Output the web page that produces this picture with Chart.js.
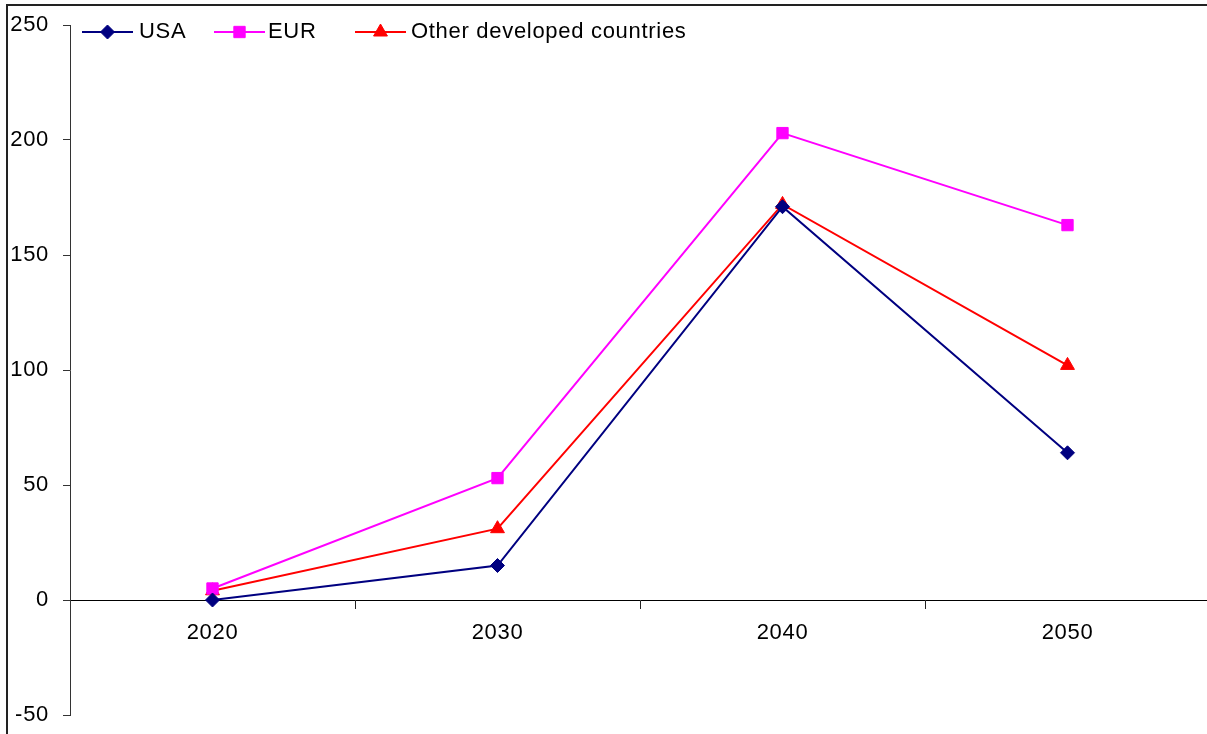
<!DOCTYPE html>
<html>
<head>
<meta charset="utf-8">
<script src="https://cdn.jsdelivr.net/npm/chart.js@4.4.0/dist/chart.umd.min.js"></script>
<style>
    html, body { margin: 0; padding: 0; background: #fff; overflow: hidden; }
    #wrap { position: relative; width: 1219px; height: 734px; }
</style>
</head>
<body>
<div id="wrap"><canvas id="lineChart" width="1219" height="734"></canvas></div>
<script>
(function () {
    'use strict';

    // Series data
    var years = ['2020', '2030', '2040', '2050'];
    var usaValues = [0, 15, 171, 64];
    var eurValues = [5, 53, 203, 163];
    var otherValues = [4, 31, 172, 102];
    var seriesNames = ['USA', 'EUR', 'Other developed countries'];
    var yTicks = [-50, 0, 50, 100, 150, 200, 250];

    var FONT = "'Liberation Sans', Arial, sans-serif";
    Chart.defaults.font.family = FONT;
    Chart.defaults.font.size = 22;
    Chart.defaults.color = '#000';

    function series(label, data, color, style, radius) {
        return {
            label: label,
            data: data,
            borderColor: color,
            backgroundColor: color,
            borderWidth: 2,
            pointStyle: style,
            pointRadius: radius,
            pointHoverRadius: radius,
            pointBorderWidth: 1,
            pointBorderColor: color,
            pointBackgroundColor: color,
            tension: 0
        };
    }

    // outer frame + slightly wider letter spacing for all text
    var framePlugin = {
        id: 'frame',
        beforeDraw: function (chart) {
            var ctx = chart.ctx;
            ctx.save();
            ctx.fillStyle = '#fff';
            ctx.fillRect(0, 0, chart.width, chart.height);
            ctx.strokeStyle = '#222';
            ctx.lineWidth = 2;
            ctx.strokeRect(7, 5, chart.width + 20, chart.height + 20);
            ctx.restore();
            if ('letterSpacing' in ctx) ctx.letterSpacing = '0.7px';
        }
    };

    // line-with-marker legend drawn inside the plot, top left
    var legendPlugin = {
        id: 'inlineLegend',
        afterDraw: function (chart) {
            var ctx = chart.ctx;
            var lineX = [82, 214, 355];
            var textX = [139, 268, 411];
            var lineY = 32;
            ctx.save();
            chart.data.datasets.forEach(function (ds, i) {
                var x0 = lineX[i], x1 = lineX[i] + 51;
                ctx.strokeStyle = ds.borderColor;
                ctx.lineWidth = 2;
                ctx.beginPath();
                ctx.moveTo(x0, lineY);
                ctx.lineTo(x1, lineY);
                ctx.stroke();
                ctx.fillStyle = ds.pointBackgroundColor;
                ctx.strokeStyle = ds.pointBorderColor;
                ctx.lineWidth = 1;
                Chart.helpers.drawPoint(ctx, {
                    pointStyle: ds.pointStyle,
                    radius: ds.pointRadius,
                    rotation: 0,
                    borderWidth: 1
                }, (x0 + x1) / 2, lineY);
                ctx.fillStyle = '#000';
                ctx.font = '22px ' + FONT;
                ctx.textBaseline = 'alphabetic';
                ctx.textAlign = 'left';
                ctx.fillText(ds.label, textX[i], 37.5);
            });
            ctx.restore();
        }
    };

    var ctx = document.getElementById('lineChart');
    new Chart(ctx, {
        type: 'line',
        data: {
            labels: years,
            datasets: [
                series(seriesNames[0], usaValues, '#000080', 'rectRot', 7),
                series(seriesNames[1], eurValues, '#FF00FF', 'rect', 8),
                series(seriesNames[2], otherValues, '#FF0000', 'triangle', 8)
            ]
        },
        options: {
            responsive: false,
            animation: false,
            layout: { padding: { left: 0, right: 2, top: 25, bottom: 19 } },
            plugins: {
                legend: { display: false },
                tooltip: { enabled: false }
            },
            scales: {
                x: {
                    type: 'category',
                    position: { y: 0 },
                    offset: true,
                    afterFit: function (scale) {
                        scale.height = 0;
                        scale.paddingLeft = 0;
                        scale.paddingRight = 0;
                    },
                    grid: {
                        offset: true,
                        drawOnChartArea: false,
                        drawTicks: true,
                        tickLength: 8,
                        color: '#222'
                    },
                    border: { display: true, color: '#000', width: 1 },
                    ticks: { padding: 12, maxRotation: 0, autoSkip: false }
                },
                y: {
                    min: yTicks[0],
                    max: yTicks[yTicks.length - 1],
                    afterFit: function (scale) {
                        scale.width = 70;
                        scale.paddingTop = 0;
                        scale.paddingBottom = 0;
                    },
                    grid: {
                        drawOnChartArea: false,
                        drawTicks: true,
                        tickLength: 7,
                        color: '#333'
                    },
                    border: { display: true, color: '#333', width: 1 },
                    ticks: { stepSize: yTicks[1] - yTicks[0], padding: 14 }
                }
            }
        },
        plugins: [framePlugin, legendPlugin]
    });
})();
</script>
</body>
</html>
